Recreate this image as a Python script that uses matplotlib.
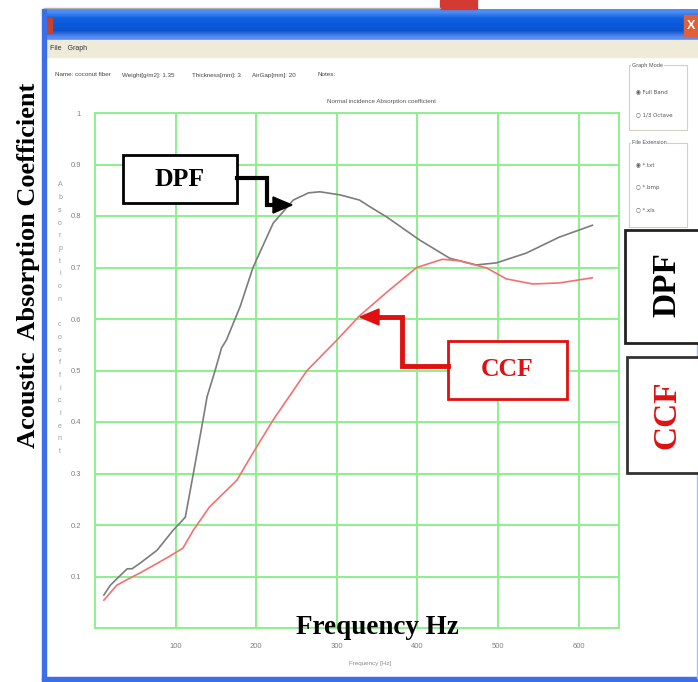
import matplotlib.pyplot as plt
import numpy as np
from matplotlib.patches import Rectangle, Polygon

plt.rcParams['font.family'] = ['Liberation Sans', 'DejaVu Sans']

# values
dpf_freq = [11, 19, 30, 40, 46, 56, 77, 97, 112, 122, 134, 139, 149, 157, 163, 180, 196,
            221, 246, 265, 279, 304, 328, 341, 362, 403, 440, 473, 498, 535, 576, 617]
dpf_alpha = [0.064, 0.083, 0.10, 0.115, 0.115, 0.126, 0.151, 0.19, 0.215, 0.30, 0.404, 0.449,
             0.50, 0.544, 0.559, 0.624, 0.70, 0.786, 0.831, 0.845, 0.847, 0.841, 0.831,
             0.818, 0.798, 0.753, 0.718, 0.705, 0.709, 0.728, 0.759, 0.782]
ccf_freq = [11, 27, 41, 56, 89, 109, 122, 142, 176, 196, 221, 263, 300, 328, 362, 399,
            431, 452, 486, 510, 543, 576, 617]
ccf_alpha = [0.054, 0.083, 0.095, 0.107, 0.136, 0.155, 0.19, 0.235, 0.287, 0.34, 0.404,
             0.50, 0.559, 0.606, 0.652, 0.70, 0.716, 0.713, 0.699, 0.678, 0.668, 0.67, 0.68]

x_ticks = [100, 200, 300, 400, 500, 600]
y_ticks = [0.1, 0.2, 0.3, 0.4, 0.5, 0.6, 0.7, 0.8, 0.9, 1.0]
y_ticklabels = ['0.1', '0.2', '0.3', '0.4', '0.5', '0.6', '0.7', '0.8', '0.9', '1']
info_items = ['Name: coconut fiber', 'Weight[g/m2]: 1.35', 'Thickness[mm]: 3',
              'AirGap[mm]: 20', 'Notes:']
small_ylabel = 'Absorption coefficient'

W, H = 698, 682
fig = plt.figure(figsize=(W / 100, H / 100), dpi=100)

# ---- window chrome (pixel coordinates) ----
bg = fig.add_axes([0, 0, 1, 1], zorder=0)
bg.set_xlim(0, W)
bg.set_ylim(H, 0)
bg.axis('off')

grad = np.array([[0.30, 0.55, 0.96], [0.06, 0.38, 0.88], [0.04, 0.35, 0.86],
                 [0.05, 0.33, 0.80], [0.35, 0.55, 0.95]])
bg.imshow(grad[:, None, :], extent=(44, W, 40, 9), aspect='auto', interpolation='bilinear')
bg.add_patch(Rectangle((46, 18), 6, 15, color='#c9402a'))
bg.add_patch(Rectangle((684, 15), 14, 21, color='#e0603a'))
bg.text(691, 26, 'X', color='white', fontsize=9, fontweight='bold', ha='center', va='center')
bg.add_patch(Rectangle((440, 0), 37, 9, color='#d23a32'))
bg.plot([44, 440], [8, 8], color='#b0b0b0', lw=1)
bg.add_patch(Rectangle((44, 40), W - 44, 17, color='#eeebd9'))
bg.text(50, 49, 'File   Graph', fontsize=5, color='#333333', va='center')
bg.add_patch(Rectangle((42, 9), 4, 672, color='#3c6fe6'))
bg.add_patch(Rectangle((42, 677), W - 42, 4, color='#3c6fe6'))
bg.plot([697, 697], [345, 678], color='#a8c0f0', lw=1)

for txt, xp in zip(info_items, [55, 122, 192, 252, 318]):
    bg.text(xp, 75, txt, fontsize=4.5, color='#444444', va='center')

# right side option panel
radio = dict(fontsize=4, color='#555555', va='center', family=['DejaVu Sans'])
bg.add_patch(Rectangle((629, 65), 58, 65, fill=False, ec='#d4d0c0', lw=0.8))
bg.text(632, 65, 'Graph Mode', fontsize=4, color='#555555', va='center',
        bbox=dict(fc='white', ec='none', pad=0.5))
bg.text(636, 92, '\u25c9 Full Band', **radio)
bg.text(636, 115, '\u25cb 1/3 Octave', **radio)
bg.add_patch(Rectangle((629, 143), 58, 84, fill=False, ec='#d4d0c0', lw=0.8))
bg.text(632, 143, 'File Extension', fontsize=4, color='#555555', va='center',
        bbox=dict(fc='white', ec='none', pad=0.5))
bg.text(636, 165, '\u25c9 *.txt', **radio)
bg.text(636, 188, '\u25cb *.bmp', **radio)
bg.text(636, 210, '\u25cb *.xls', **radio)

bg.text(381, 102, 'Normal incidence Absorption coefficient', fontsize=4.5,
        color='#555555', ha='center', va='center')
bg.text(370, 664, 'Frequency [Hz]', fontsize=4.5, color='#888888', ha='center', va='center')
for i, ch in enumerate(small_ylabel):
    bg.text(60, 185 + i * 12.7, ch, fontsize=5, color='#999999', ha='center', va='center')

# ---- the chart itself ----
ax = fig.add_axes([95 / W, 1 - 628 / H, 524 / W, 515 / H], zorder=1)
green = '#8cf08c'
ax.plot(dpf_freq, dpf_alpha, color='#7c7c7c', lw=1.2)
ax.plot(ccf_freq, ccf_alpha, color='#f47070', lw=1.2)
ax.set_xlim(0, 650)
ax.set_ylim(0, 1)
ax.set_xticks(x_ticks)
ax.set_xticklabels([str(t) for t in x_ticks])
ax.set_yticks(y_ticks)
ax.set_yticklabels(y_ticklabels)
ax.tick_params(length=0, labelsize=5.5, labelcolor='#808080')
ax.tick_params(axis='x', pad=11)
ax.tick_params(axis='y', pad=10)
ax.grid(True, color=green, lw=1.4)
for s in ax.spines.values():
    s.set_color(green)
    s.set_linewidth(1.4)

# ---- annotations drawn over everything ----
fg = fig.add_axes([0, 0, 1, 1], zorder=2)
fg.set_xlim(0, W)
fg.set_ylim(H, 0)
fg.axis('off')
fg.patch.set_alpha(0)

serif = ['Liberation Serif', 'DejaVu Serif']
fg.text(29, 265, 'Acoustic  Absorption Coefficient', rotation=90, family=serif,
        fontweight='bold', fontsize=19, ha='center', va='center', color='black')
fg.text(377, 628, 'Frequency Hz', family=serif, fontweight='bold', fontsize=19.5,
        ha='center', va='center', color='black')

# DPF label and elbow arrow
fg.add_patch(Rectangle((123, 155), 114, 48, fc='white', ec='black', lw=2))
fg.text(180, 180, 'DPF', family=serif, fontweight='bold', fontsize=18.5,
        ha='center', va='center', color='black')
fg.plot([237, 267, 267, 276], [178, 178, 205, 205], color='black', lw=3,
        solid_joinstyle='miter')
fg.add_patch(Polygon([(292, 205), (273, 197), (273, 213)], color='black'))

# CCF label and elbow arrow
fg.add_patch(Rectangle((448, 341), 119, 58, fc='white', ec='#e01010', lw=2))
fg.text(507, 369, 'CCF', family=serif, fontweight='bold', fontsize=18.5,
        ha='center', va='center', color='#e01010')
fg.plot([448, 402, 402, 374], [366, 366, 317, 317], color='#e01010', lw=3.5,
        solid_joinstyle='miter')
fg.add_patch(Polygon([(360, 317), (379, 309), (379, 325)], color='#e01010'))

# vertical legend boxes on the right
fg.add_patch(Rectangle((625, 230), 80, 113, fc='white', ec='#222222', lw=2))
fg.text(667, 285, 'DPF', rotation=90, family=serif, fontweight='bold', fontsize=24,
        ha='center', va='center', color='black')
fg.add_patch(Rectangle((627, 357), 80, 116, fc='white', ec='#333333', lw=2))
fg.text(667, 415, 'CCF', rotation=90, family=serif, fontweight='bold', fontsize=24,
        ha='center', va='center', color='#e01010')

fig.savefig('out.png', dpi=100)
